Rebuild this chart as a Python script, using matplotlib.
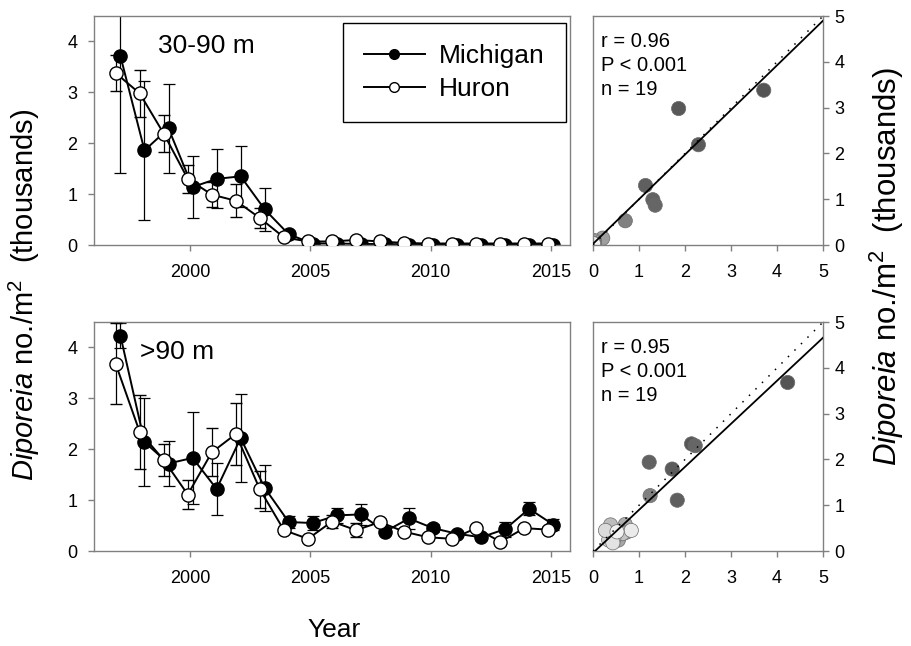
"""Diporeia density, Lake Michigan vs Lake Huron, two depth strata."""

import matplotlib
matplotlib.use("Agg")
import matplotlib.pyplot as plt
import numpy as np
from matplotlib.lines import Line2D

plt.rcParams["font.family"] = ["Liberation Sans", "DejaVu Sans"]
plt.rcParams["mathtext.fontset"] = "custom"
plt.rcParams["mathtext.rm"] = "Liberation Sans"
plt.rcParams["mathtext.it"] = "Liberation Sans:italic"

years = np.arange(1997, 2016)

# 30-90 m, means and errors (thousands per m2)
mich_mid = [3.71, 1.86, 2.29, 1.14, 1.30, 1.35, 0.70, 0.21, 0.03, 0.03, 0.02, 0.02,
            0.01, 0.01, 0.01, 0.01, 0.01, 0.01, 0.01]
mich_mid_err = [2.30, 1.37, 0.87, 0.60, 0.58, 0.60, 0.42, 0.06, 0.02, 0.02, 0.02, 0.02,
                0.02, 0.02, 0.02, 0.02, 0.02, 0.02, 0.02]
huron_mid = [3.38, 2.98, 2.19, 1.30, 0.99, 0.87, 0.53, 0.15, 0.07, 0.07, 0.10, 0.07,
             0.04, 0.03, 0.03, 0.03, 0.03, 0.03, 0.03]
huron_mid_err = [0.36, 0.46, 0.37, 0.27, 0.25, 0.32, 0.20, 0.05, 0.02, 0.02, 0.02, 0.02,
                 0.02, 0.02, 0.02, 0.02, 0.02, 0.02, 0.02]

# >90 m
mich_deep = [4.23, 2.14, 1.72, 1.83, 1.22, 2.22, 1.24, 0.57, 0.55, 0.70, 0.72, 0.38,
             0.64, 0.45, 0.34, 0.27, 0.43, 0.83, 0.52]
mich_deep_err = [0.25, 0.86, 0.45, 0.90, 0.51, 0.87, 0.46, 0.12, 0.13, 0.15, 0.20, 0.05,
                 0.20, 0.08, 0.06, 0.06, 0.15, 0.13, 0.10]
huron_deep = [3.68, 2.34, 1.79, 1.11, 1.94, 2.30, 1.21, 0.41, 0.24, 0.58, 0.41, 0.57,
              0.38, 0.27, 0.24, 0.45, 0.18, 0.45, 0.42]
huron_deep_err = [0.80, 0.73, 0.32, 0.28, 0.47, 0.60, 0.37, 0.06, 0.05, 0.12, 0.14, 0.05,
                  0.05, 0.05, 0.05, 0.05, 0.05, 0.05, 0.05]

strata = ["30-90 m", ">90 m"]
stats = [["r = 0.96", "P < 0.001", "n = 19"], ["r = 0.95", "P < 0.001", "n = 19"]]

SPINE = "#808080"
FS_TICK = 13
FS_BIG = 19


def style_axes(ax, xpad=10, ypad=8):
    for s in ax.spines.values():
        s.set_color(SPINE)
        s.set_linewidth(1.0)
    ax.tick_params(direction="out", length=4, width=1, color=SPINE, labelsize=FS_TICK)
    ax.tick_params(axis="x", pad=xpad)
    ax.tick_params(axis="y", pad=ypad)


def time_panel(ax, mich, mich_err, huron, huron_err, label):
    ax.errorbar(years + 0.1, mich, yerr=mich_err, color="black", lw=1.4, ecolor="black",
                elinewidth=0.9, capsize=4, capthick=0.9, marker="o", ms=9.5,
                mfc="black", mec="black", zorder=2, label="Michigan")
    ax.errorbar(years - 0.1, huron, yerr=huron_err, color="black", lw=1.4, ecolor="black",
                elinewidth=0.9, capsize=4, capthick=0.9, marker="o", ms=9.5,
                mfc="white", mec="black", mew=1.0, zorder=3, label="Huron")
    ax.set_xlim(1996.0, 2015.8)
    ax.set_ylim(0, 4.5)
    ax.set_xticks([2000, 2005, 2010, 2015])
    ax.set_yticks([0, 1, 2, 3, 4])
    ax.text(0.134 if label.startswith("3") else 0.097, 0.87, label, transform=ax.transAxes,
            fontsize=FS_BIG, va="center", ha="left")
    style_axes(ax)


def scatter_panel(ax, mich, huron, lines):
    mich = np.asarray(mich)
    huron = np.asarray(huron)
    shade = np.interp(years, [1997, 2002, 2003, 2004, 2015], [0.33, 0.40, 0.50, 0.62, 0.95])
    ax.scatter(mich, huron, s=105, c=[str(g) for g in shade], edgecolors="#6a6a6a",
               linewidths=0.5, zorder=2)
    lims = np.array([0, 5])
    ax.plot(lims, lims, color="black", lw=1.1, ls=(0, (1, 5)), zorder=3)
    slope, icpt = np.polyfit(mich, huron, 1)
    ax.plot(lims, icpt + slope * lims, color="black", lw=1.3, zorder=4)
    ax.set_xlim(0, 5)
    ax.set_ylim(0, 5)
    ax.set_xticks(range(6))
    ax.set_yticks(range(6))
    ax.yaxis.tick_right()
    for txt, yy in zip(lines, [0.89, 0.785, 0.68]):
        ax.text(0.035, yy, txt, transform=ax.transAxes, fontsize=14.5, va="center", ha="left")
    style_axes(ax, ypad=4)


fig = plt.figure(figsize=(9.11, 6.46), dpi=100)
ax_mt = fig.add_axes([0.1032, 0.6207, 0.5225, 0.3545])
ax_md = fig.add_axes([0.1032, 0.1470, 0.5225, 0.3545])
ax_st = fig.add_axes([0.6510, 0.6207, 0.2525, 0.3545])
ax_sd = fig.add_axes([0.6510, 0.1470, 0.2525, 0.3545])

time_panel(ax_mt, mich_mid, mich_mid_err, huron_mid, huron_mid_err, strata[0])
time_panel(ax_md, mich_deep, mich_deep_err, huron_deep, huron_deep_err, strata[1])
scatter_panel(ax_st, mich_mid, huron_mid, stats[0])
scatter_panel(ax_sd, mich_deep, huron_deep, stats[1])

handles = [
    Line2D([], [], color="black", lw=1.4, marker="o", ms=7, mfc="black", mec="black"),
    Line2D([], [], color="black", lw=1.4, marker="o", ms=7, mfc="white", mec="black"),
]
leg = ax_mt.legend(handles, ["Michigan", "Huron"], loc="upper right",
                   bbox_to_anchor=(0.992, 0.97), fontsize=FS_BIG, frameon=True,
                   fancybox=False, edgecolor="black", framealpha=1, handlelength=2.3,
                   handletextpad=0.55, labelspacing=0.35, borderpad=0.8, borderaxespad=0)
leg.get_frame().set_linewidth(1.0)

ylabel = r"$\mathit{Diporeia}$ no./m$^{2}$  (thousands)"
fig.text(0.027, 0.543, ylabel, rotation=90, fontsize=21, ha="center", va="center")
fig.text(0.974, 0.587, ylabel, rotation=90, fontsize=22.5, ha="center", va="center")
fig.text(0.367, 0.025, "Year", fontsize=19, ha="center", va="center")

fig.savefig("out.png", dpi=100)
